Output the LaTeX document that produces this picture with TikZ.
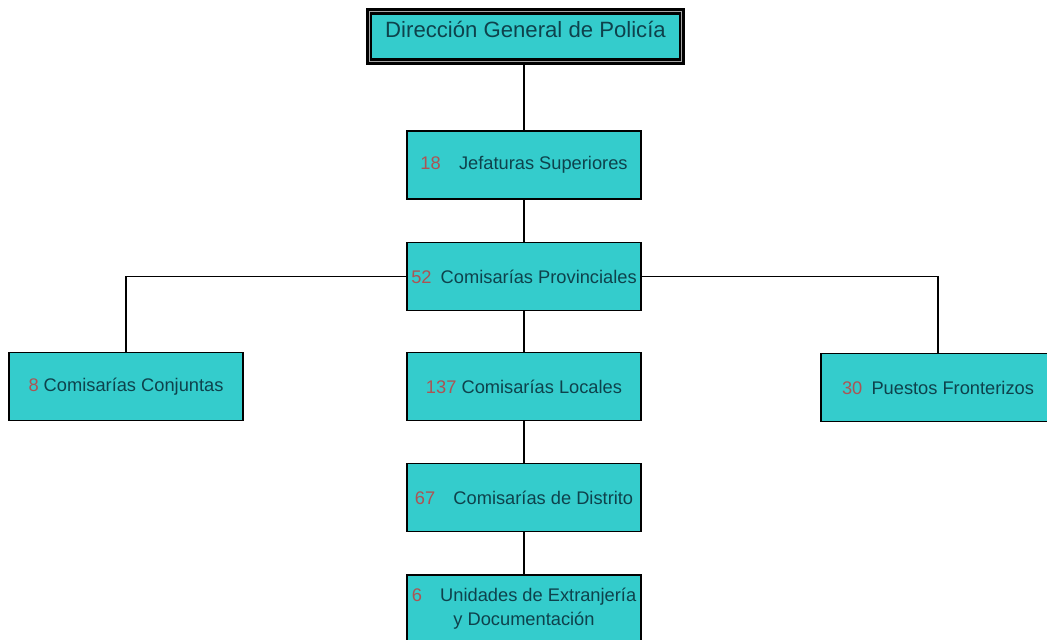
\documentclass[tikz,border=0pt]{standalone}
\usepackage{fontspec}
\setmainfont{Liberation Sans}
\definecolor{boxfill}{RGB}{52,204,204}
\definecolor{boxtext}{RGB}{14,66,76}
\definecolor{boxnum}{RGB}{172,84,84}
\newcommand{\cnt}[1]{\textcolor{boxnum}{#1}}
\begin{document}
\begin{tikzpicture}[x=0.02cm,y=-0.02cm,
   unit/.style={draw=black,line width=1.1pt,fill=boxfill,text=boxtext,
     minimum width=4.68cm,minimum height=1.36cm,inner sep=2pt,align=center,
     font=\fontsize{10.4}{13.5}\selectfont},
   link/.style={black,line width=1.1pt}]
   \useasboundingbox (0,0) rectangle (1047,639);
   \clip (0,0) rectangle (1047,639);
   % cabecera
   \node [draw=black,line width=1.4pt,double=black!35,double distance=0.7pt,fill=boxfill,
     minimum width=6.25cm,minimum height=1.0cm] (dgp) at (525.5,36.5) {};
   \node [text=boxtext,font=\fontsize{12.6}{14}\selectfont] (dgptxt) at (525.5,29) {Dirección General de Policía};
   % niveles
   \node [unit] (jef) at (524,165) {\cnt{18}\quad Jefaturas Superiores};
   \node [unit] (prov) at (524,276.5) {\cnt{52}\enspace Comisarías Provinciales};
   \node [unit] (conj) at (126,386.5) {\cnt{8} Comisarías Conjuntas};
   \node [unit] (loc) at (524,386.5) {\cnt{137} Comisarías Locales};
   \node [unit] (fron) at (938,387.5) {\cnt{30}\enspace Puestos Fronterizos};
   \node [unit] (dist) at (524,497.5) {\cnt{67}\quad Comisarías de Distrito};
   \node [unit] (unid) at (524,609) {\cnt{6}\quad Unidades de Extranjería\\y Documentación};
   % conexiones
   \draw [link] (dgp.south -| jef.north) -- (jef);
   \draw [link] (jef) -- (prov);
   \draw [link] (prov) -- (loc);
   \draw [link] (loc) -- (dist);
   \draw [link] (dist) -- (unid);
   \draw [link] (prov.west) -| (conj.north);
   \draw [link] (prov.east) -| (fron.north);
\end{tikzpicture}
\end{document}
